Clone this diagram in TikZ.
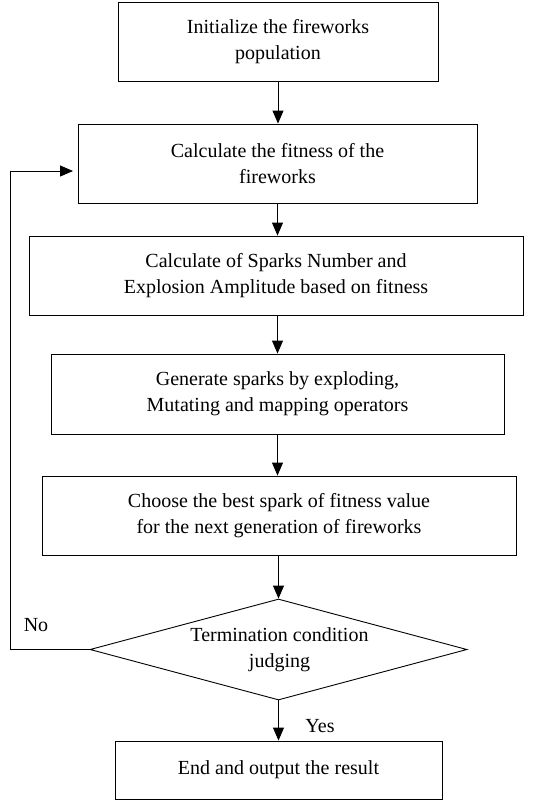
\documentclass[tikz,border=0pt]{standalone}
\usepackage{fontspec}
\setmainfont{Liberation Serif}
\usetikzlibrary{arrows.meta,shapes.geometric}
\begin{document}
\begin{tikzpicture}[x=1pt,y=-1pt,
  box/.style={draw, line width=0.9pt, align=center, inner sep=0pt, font=\fontsize{20}{26}\selectfont},
  lbl/.style={font=\fontsize{20}{26}\selectfont, inner sep=0pt},
  arr/.style={line width=0.9pt, -{Triangle[length=13pt,width=11pt]}}]
\useasboundingbox (0,0) rectangle (535,801);
\node[box, minimum width=320pt, minimum height=79pt] (b1) at (278,41.5) {Initialize the fireworks\\population};
\node[box, minimum width=399pt, minimum height=79pt] (b2) at (277.5,163.5) {Calculate the fitness of the\\fireworks};
\node[box, minimum width=494pt, minimum height=79pt] (b3) at (276,275.5) {Calculate of Sparks Number and\\Explosion Amplitude based on fitness};
\node[box, minimum width=453pt, minimum height=80pt] (b4) at (277.5,394) {Generate sparks by exploding,\\Mutating and mapping operators};
\node[box, minimum width=474pt, minimum height=79pt] (b5) at (279,515.5) {Choose the best spark of fitness value\\for the next generation of fireworks};
\node[draw, line width=0.9pt, diamond, minimum width=377pt, minimum height=101pt, inner sep=0pt] (d) at (278.5,649.5) {};
\node[lbl, align=center] (dt) at (279.5,649.5) {Termination condition\\judging};
\node[box, minimum width=327pt, minimum height=58pt] (b6) at (278.5,770) {End and output the result};
\node[lbl] (yes) at (320,726) {Yes};
\node[lbl] (no) at (36,625) {No};
\coordinate (lp) at (73,171);
\draw[arr] (b1.south) -- (b1.south |- b2.north);
\draw[arr] (b2.south) -- (b2.south |- b3.north);
\draw[arr] (b2.south |- b3.south) -- (b2.south |- b4.north);
\draw[arr] (b2.south |- b4.south) -- (b2.south |- b5.north);
\draw[arr] (d.north |- b5.south) -- (d.north);
\draw[arr] (d.south) -- (d.south |- b6.north);
\draw[arr] (d.west) -- (10,649.5) -- (10,171) -- (lp);
\end{tikzpicture}
\end{document}
